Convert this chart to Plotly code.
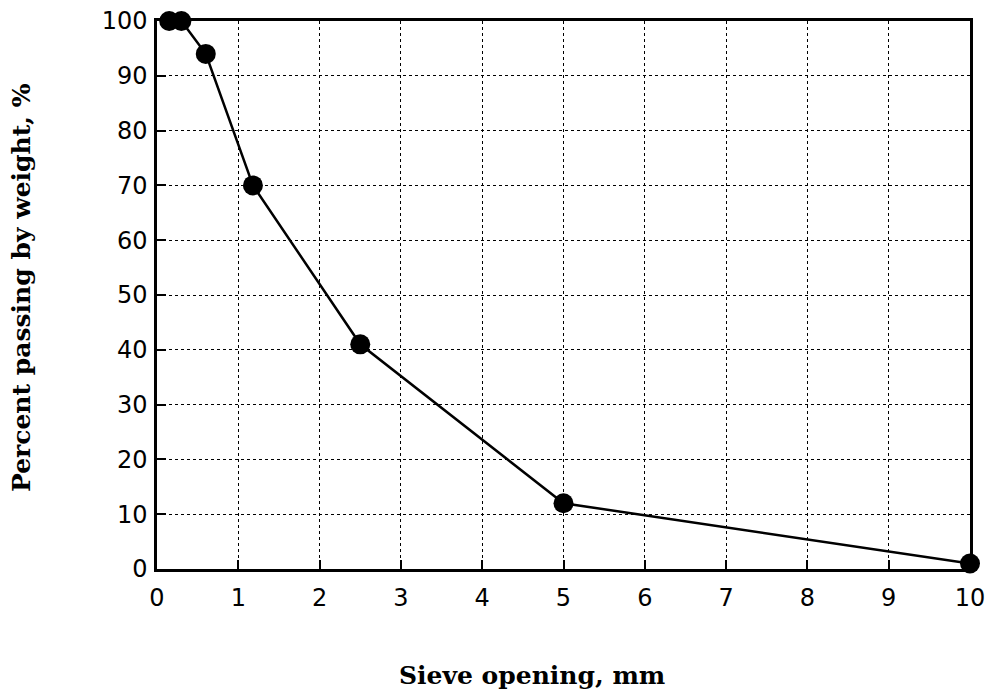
import plotly.graph_objects as go

sieve_mm = [0.15, 0.3, 0.6, 1.18, 2.5, 5.0, 10.0]
percent_passing = [100, 100, 94, 70, 41, 12, 1]
x_ticks = list(range(0, 11))
y_ticks = list(range(0, 101, 10))
x_title = "Sieve opening, mm"
y_title = "Percent passing by weight, %"

fig = go.Figure()
fig.add_trace(go.Scatter(
    x=sieve_mm, y=percent_passing, mode="lines+markers",
    line=dict(color="black", width=2.5),
    marker=dict(color="black", size=20, symbol="circle"),
    cliponaxis=False, showlegend=False,
))

axis_common = dict(
    showline=True, linecolor="black", linewidth=2.5, mirror=True,
    showgrid=True, gridcolor="black", gridwidth=1, griddash="dot",
    ticks="inside", ticklen=9, tickwidth=2, tickcolor="black",
    zeroline=False, automargin=False,
    tickfont=dict(family="DejaVu Sans", size=24, color="black"),
)

fig.update_xaxes(
    range=[0, 10], tickvals=x_ticks, ticktext=[str(v) for v in x_ticks],
    ticklabelstandoff=5,
    **axis_common,
)
fig.update_yaxes(
    range=[0, 100], tickvals=y_ticks, ticktext=[str(v) for v in y_ticks],
    ticklabelstandoff=2,
    **axis_common,
)

title_font = dict(family="DejaVu Serif", size=25, color="black", weight="bold")
fig.add_annotation(text=x_title, xref="paper", yref="paper", x=0.461, y=0,
                   xanchor="center", yanchor="middle", yshift=-106,
                   showarrow=False, font=title_font)
fig.add_annotation(text=y_title, xref="paper", yref="paper", x=0, y=0.5,
                   xanchor="center", yanchor="middle", xshift=-136, yshift=7,
                   textangle=-90, showarrow=False, font=title_font)

fig.update_layout(
    width=989, height=691,
    margin=dict(l=157, r=19, t=21, b=122),
    plot_bgcolor="white", paper_bgcolor="white",
)

fig.write_html("out.html",
               config={"displayModeBar": False},
               post_script="document.body.style.margin='0';document.body.style.overflow='hidden';")
